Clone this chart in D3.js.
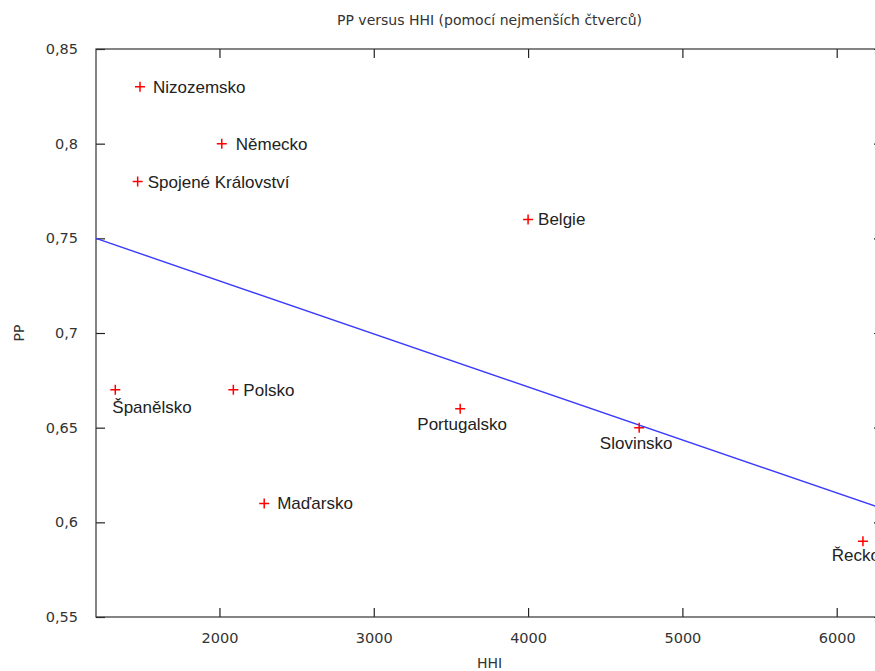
<!DOCTYPE html>
<html>
<head>
<meta charset="utf-8">
<script src="https://cdn.jsdelivr.net/npm/d3@7"></script>
<style>
  body { margin: 0; background: #fff; overflow: hidden; }
  .tick text, .title, .axis-label { font-family: "DejaVu Sans", Verdana, sans-serif; fill: #333; }
  .point-label { font-family: "Liberation Sans", Arial, sans-serif; font-size: 17px; fill: #222; }
</style>
</head>
<body>
<svg class="chart"></svg>
<script>
// countries with HHI and PP
const countries = ['Nizozemsko', 'Německo', 'Spojené Království', 'Belgie', 'Španělsko',
  'Polsko', 'Maďarsko', 'Portugalsko', 'Slovinsko', 'Řecko']
const hhi = [1485, 2015, 1470, 4000, 1325, 2090, 2290, 3560, 4720, 6170]
const pp = [0.83, 0.80, 0.78, 0.76, 0.67, 0.67, 0.61, 0.66, 0.65, 0.59]
const xTicks = [2000, 3000, 4000, 5000, 6000]
const yTicks = [0.55, 0.6, 0.65, 0.7, 0.75, 0.8, 0.85]

// where each label sits relative to its point
const labelPlacement = {
  'Nizozemsko': { anchor: 'start', dx: 13, dy: 6 },
  'Německo': { anchor: 'start', dx: 14, dy: 6 },
  'Spojené Království': { anchor: 'start', dx: 10, dy: 6 },
  'Belgie': { anchor: 'start', dx: 10, dy: 6 },
  'Španělsko': { anchor: 'start', dx: -3, dy: 23 },
  'Polsko': { anchor: 'start', dx: 10, dy: 6 },
  'Maďarsko': { anchor: 'start', dx: 13, dy: 6 },
  'Portugalsko': { anchor: 'middle', dx: 2, dy: 21 },
  'Slovinsko': { anchor: 'middle', dx: -3, dy: 21 },
  'Řecko': { anchor: 'middle', dx: -7, dy: 20 },
}

const width = 875
const height = 671
const plotLeft = 96
const plotRight = 883
const plotTop = 49
const plotBottom = 617
const tickLen = 9

const x = d3.scaleLinear().domain([1200, 6300]).range([plotLeft, plotRight])
const y = d3.scaleLinear().domain([0.55, 0.85]).range([plotBottom, plotTop])
const fmt = v => d3.format('.2~f')(v).replace('.', ',')

const svg = d3.select('.chart').attr('width', width).attr('height', height)

svg.append('text').attr('class', 'title')
  .attr('x', (plotLeft + plotRight) / 2).attr('y', 25)
  .attr('text-anchor', 'middle').attr('font-size', 14)
  .text('PP versus HHI (pomocí nejmenších čtverců)')

const styleAxis = g => {
  g.select('.domain').remove()
  g.selectAll('.tick line').attr('stroke', '#222').attr('stroke-width', 1.2)
  g.selectAll('.tick text').attr('font-size', 14.5)
}

svg.append('g').attr('transform', `translate(0,${plotBottom})`)
  .call(d3.axisBottom(x).tickValues(xTicks).tickSize(-tickLen).tickPadding(16).tickFormat(d3.format('d')))
  .call(styleAxis)
svg.append('g').attr('transform', `translate(0,${plotTop})`)
  .call(d3.axisTop(x).tickValues(xTicks).tickSize(-tickLen).tickFormat(''))
  .call(styleAxis)
svg.append('g').attr('transform', `translate(${plotLeft},0)`)
  .call(d3.axisLeft(y).tickValues(yTicks).tickSize(-tickLen).tickPadding(18).tickFormat(fmt))
  .call(styleAxis)
svg.append('g').attr('transform', `translate(${plotRight},0)`)
  .call(d3.axisRight(y).tickValues(yTicks).tickSize(-tickLen).tickFormat(''))
  .call(styleAxis)

svg.append('rect')
  .attr('x', plotLeft).attr('y', plotTop)
  .attr('width', plotRight - plotLeft).attr('height', plotBottom - plotTop)
  .attr('fill', 'none').attr('stroke', '#333').attr('stroke-width', 1.2)

svg.append('text').attr('class', 'axis-label')
  .attr('transform', `translate(24,${(plotTop + plotBottom) / 2}) rotate(-90)`)
  .attr('text-anchor', 'middle').attr('font-size', 14)
  .text('PP')
svg.append('text').attr('class', 'axis-label')
  .attr('x', (plotLeft + plotRight) / 2).attr('y', 668)
  .attr('text-anchor', 'middle').attr('font-size', 14)
  .text('HHI')

// least squares fit
const mx = d3.mean(hhi)
const my = d3.mean(pp)
const slope = d3.sum(hhi, (v, i) => (v - mx) * (pp[i] - my)) / d3.sum(hhi, v => (v - mx) ** 2)
const fit = v => my + slope * (v - mx)

svg.append('path')
  .datum(x.domain())
  .attr('fill', 'none').attr('stroke', '#3a3aff').attr('stroke-width', 1.4)
  .attr('d', d3.line().x(d => x(d)).y(d => y(fit(d))))

const points = svg.append('g').selectAll('g')
  .data(countries)
  .enter()
  .append('g')
  .attr('transform', (d, i) => `translate(${x(hhi[i])},${y(pp[i])})`)

points.append('path')
  .attr('d', 'M-5,0H5M0,-5V5')
  .attr('stroke', '#f00').attr('stroke-width', 1.5)

points.append('text').attr('class', 'point-label')
  .attr('x', d => labelPlacement[d].dx)
  .attr('y', d => labelPlacement[d].dy)
  .attr('text-anchor', d => labelPlacement[d].anchor)
  .text(d => d)
</script>
</body>
</html>
